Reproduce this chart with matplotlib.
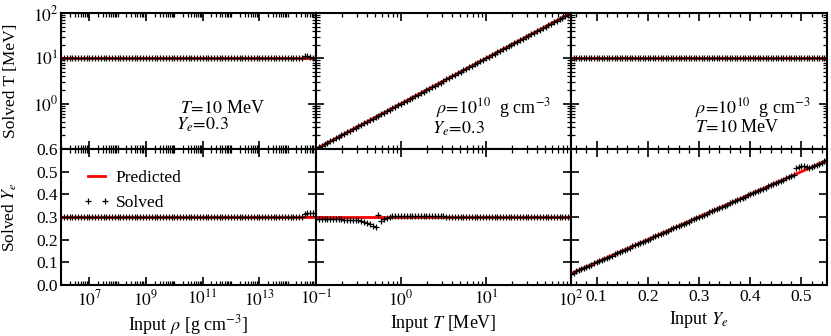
import numpy as np
import matplotlib
matplotlib.use("Agg")
import matplotlib.pyplot as plt
from matplotlib.ticker import FixedLocator, LogLocator, MultipleLocator, FuncFormatter, NullFormatter

plt.rcParams.update({
    "font.family": ["Liberation Serif", "DejaVu Serif"],
    "mathtext.fontset": "stix",
    "font.size": 12.5,
    "axes.linewidth": 1.5,
})

# ---------------- data ----------------
T_FIXED = 10.0      # MeV
YE_FIXED = 0.3

rho_log10 = [6.0, 6.1, 6.2, 6.3, 6.4, 6.5, 6.6, 6.7, 6.8, 6.9,
             7.0, 7.1, 7.2, 7.3, 7.4, 7.5, 7.6, 7.7, 7.8, 7.9,
             8.0, 8.1, 8.2, 8.3, 8.4, 8.5, 8.6, 8.7, 8.8, 8.9,
             9.0, 9.1, 9.2, 9.3, 9.4, 9.5, 9.6, 9.7, 9.8, 9.9,
             10.0, 10.1, 10.2, 10.3, 10.4, 10.5, 10.6, 10.7, 10.8, 10.9,
             11.0, 11.1, 11.2, 11.3, 11.4, 11.5, 11.6, 11.7, 11.8, 11.9,
             12.0, 12.1, 12.2, 12.3, 12.4, 12.5, 12.6, 12.7, 12.8, 12.9,
             13.0, 13.1, 13.2, 13.3, 13.4, 13.5, 13.6, 13.7, 13.8, 13.9,
             14.0, 14.1, 14.2, 14.3, 14.4, 14.5, 14.6, 14.7, 14.8, 14.9,
             15.0]
t_solved_vs_rho = [10.0] * 85 + [10.2, 11.2, 11.0, 10.6, 10.3, 10.1]
ye_solved_vs_rho = [0.300] * 85 + [0.302, 0.312, 0.318, 0.319, 0.318, 0.305]

t_input = [0.1000, 0.1080, 0.1166, 0.1259, 0.1359, 0.1468, 0.1585, 0.1711, 0.1848, 0.1995,
           0.2154, 0.2326, 0.2512, 0.2712, 0.2929, 0.3162, 0.3415, 0.3687, 0.3981, 0.4299,
           0.4642, 0.5012, 0.5412, 0.5843, 0.6310, 0.6813, 0.7356, 0.7943, 0.8577, 0.9261,
           1.000, 1.080, 1.166, 1.259, 1.359, 1.468, 1.585, 1.711, 1.848, 1.995,
           2.154, 2.326, 2.512, 2.712, 2.929, 3.162, 3.415, 3.687, 3.981, 4.299,
           4.642, 5.012, 5.412, 5.843, 6.310, 6.813, 7.356, 7.943, 8.577, 9.261,
           10.00, 10.80, 11.66, 12.59, 13.59, 14.68, 15.85, 17.11, 18.48, 19.95,
           21.54, 23.26, 25.12, 27.12, 29.29, 31.62, 34.15, 36.87, 39.81, 42.99,
           46.42, 50.12, 54.12, 58.43, 63.10, 68.13, 73.56, 79.43, 85.77, 92.61,
           100.0]
t_solved_vs_t = [0.1000, 0.1080, 0.1166, 0.1259, 0.1359, 0.1468, 0.1585, 0.1711, 0.1848, 0.1995,
                 0.2154, 0.2326, 0.2512, 0.2712, 0.2929, 0.3162, 0.3415, 0.3687, 0.3981, 0.4299,
                 0.4642, 0.5012, 0.5412, 0.5843, 0.6310, 0.6813, 0.7356, 0.7943, 0.8577, 0.9261,
                 1.000, 1.080, 1.166, 1.259, 1.359, 1.468, 1.585, 1.711, 1.848, 1.995,
                 2.154, 2.326, 2.512, 2.712, 2.929, 3.162, 3.415, 3.687, 3.981, 4.299,
                 4.642, 5.012, 5.412, 5.843, 6.310, 6.813, 7.356, 7.943, 8.577, 9.261,
                 10.00, 10.80, 11.66, 12.59, 13.59, 14.68, 15.85, 17.11, 18.48, 19.95,
                 21.54, 23.26, 25.12, 27.12, 29.29, 31.62, 34.15, 36.87, 39.81, 42.99,
                 46.42, 50.12, 54.12, 58.43, 63.10, 68.13, 73.56, 79.43, 85.77, 92.61,
                 100.0]
ye_solved_vs_t = ([0.291, 0.291, 0.290, 0.290, 0.290, 0.290, 0.289, 0.289, 0.289, 0.289,
                   0.288, 0.288, 0.287, 0.287, 0.286, 0.285,
                   0.283, 0.279, 0.274, 0.268, 0.262, 0.256,
                   0.307, 0.282, 0.291, 0.297, 0.301,
                   0.303, 0.304, 0.305,
                   0.305, 0.305, 0.306, 0.306, 0.306, 0.306, 0.306, 0.305, 0.305, 0.305, 0.305,
                   0.305, 0.304, 0.304, 0.303, 0.303, 0.302, 0.302, 0.301,
                   0.301, 0.301, 0.300, 0.300]
                  + [0.300] * 38)

ye_input = [0.050, 0.055, 0.060, 0.065, 0.070, 0.075, 0.080, 0.085, 0.090, 0.095,
            0.100, 0.105, 0.110, 0.115, 0.120, 0.125, 0.130, 0.135, 0.140, 0.145,
            0.150, 0.155, 0.160, 0.165, 0.170, 0.175, 0.180, 0.185, 0.190, 0.195,
            0.200, 0.205, 0.210, 0.215, 0.220, 0.225, 0.230, 0.235, 0.240, 0.245,
            0.250, 0.255, 0.260, 0.265, 0.270, 0.275, 0.280, 0.285, 0.290, 0.295,
            0.300, 0.305, 0.310, 0.315, 0.320, 0.325, 0.330, 0.335, 0.340, 0.345,
            0.350, 0.355, 0.360, 0.365, 0.370, 0.375, 0.380, 0.385, 0.390, 0.395,
            0.400, 0.405, 0.410, 0.415, 0.420, 0.425, 0.430, 0.435, 0.440, 0.445,
            0.450, 0.455, 0.460, 0.465, 0.470, 0.475, 0.480, 0.485, 0.490, 0.495,
            0.500, 0.505, 0.510, 0.515, 0.520, 0.525, 0.530, 0.535, 0.540, 0.545,
            0.550]
t_solved_vs_ye = [10.0] * 101
ye_solved_vs_ye = [0.050, 0.055, 0.060, 0.065, 0.070, 0.075, 0.080, 0.085, 0.090, 0.095,
                   0.100, 0.105, 0.110, 0.115, 0.120, 0.125, 0.130, 0.135, 0.140, 0.145,
                   0.150, 0.155, 0.160, 0.165, 0.170, 0.175, 0.180, 0.185, 0.190, 0.195,
                   0.200, 0.205, 0.210, 0.215, 0.220, 0.225, 0.230, 0.235, 0.240, 0.245,
                   0.250, 0.255, 0.260, 0.265, 0.270, 0.275, 0.280, 0.285, 0.290, 0.295,
                   0.300, 0.305, 0.310, 0.315, 0.320, 0.325, 0.330, 0.335, 0.340, 0.345,
                   0.350, 0.355, 0.360, 0.365, 0.370, 0.375, 0.380, 0.385, 0.390, 0.395,
                   0.400, 0.405, 0.410, 0.415, 0.420, 0.425, 0.430, 0.435, 0.440, 0.445,
                   0.450, 0.455, 0.460, 0.465, 0.470, 0.475, 0.480, 0.486, 0.515, 0.521,
                   0.523, 0.523, 0.522, 0.515, 0.520, 0.525, 0.530, 0.535, 0.540, 0.545,
                   0.550]

rho_input = 10.0 ** np.array(rho_log10)

# ---------------- figure ----------------
W, H = 831, 336
fig = plt.figure(figsize=(W / 100, H / 100), dpi=100)

xs = [61, 316, 571, 827]
ys = [13, 149, 285]


def rect(c, r):
    x0, x1 = xs[c], xs[c + 1]
    y0, y1 = ys[r], ys[r + 1]
    return [x0 / W, 1 - y1 / H, (x1 - x0) / W, (y1 - y0) / H]


axes = [[fig.add_axes(rect(c, r)) for c in range(3)] for r in range(2)]


def style(ax):
    ax.tick_params(which="both", direction="in", top=True, right=True)
    ax.tick_params(which="major", length=6, width=1.2)
    ax.tick_params(which="minor", length=3, width=0.9)
    ax.tick_params(axis="x", which="both", pad=3)
    ax.tick_params(axis="y", which="both", pad=2)


def pow_fmt(hide=()):
    def f(v, p):
        e = int(round(np.log10(v)))
        if e in hide:
            return ""
        return r"$10^{%d}$" % e
    return FuncFormatter(f)


red_kw = dict(color="red", lw=2, label="Predicted", zorder=2)
blk_kw = dict(ls="none", marker="+", color="black", ms=5, mew=0.9, label="Solved", zorder=3)

xdata = [rho_input, t_input, ye_input]
top_pred = [[T_FIXED] * len(rho_input), t_input, [T_FIXED] * len(ye_input)]
top_solv = [t_solved_vs_rho, t_solved_vs_t, t_solved_vs_ye]
bot_pred = [[YE_FIXED] * len(rho_input), [YE_FIXED] * len(t_input), ye_input]
bot_solv = [ye_solved_vs_rho, ye_solved_vs_t, ye_solved_vs_ye]

for c in range(3):
    at, ab = axes[0][c], axes[1][c]
    at.plot(xdata[c], top_pred[c], **red_kw)
    at.plot(xdata[c], top_solv[c], **blk_kw)
    ab.plot(xdata[c], bot_pred[c], **red_kw)
    ab.plot(xdata[c], bot_solv[c], **blk_kw)

    # y axes
    at.set_yscale("log")
    at.set_ylim(0.1, 100)
    at.yaxis.set_major_locator(FixedLocator([0.1, 1, 10, 100]))
    at.yaxis.set_minor_locator(LogLocator(base=10, subs=np.arange(2, 10), numticks=50))
    at.yaxis.set_minor_formatter(NullFormatter())
    ab.set_ylim(0, 0.6)
    ab.yaxis.set_major_locator(MultipleLocator(0.1))
    if c == 0:
        at.yaxis.set_major_formatter(pow_fmt(hide=(-1,)))
        ab.yaxis.set_major_formatter(FuncFormatter(lambda v, p: "%.1f" % v))
    else:
        at.tick_params(labelleft=False)
        ab.tick_params(labelleft=False)

    for ax in (at, ab):
        if c == 0:
            ax.set_xscale("log")
            ax.set_xlim(1e6, 1e15)
            ax.xaxis.set_major_locator(FixedLocator([1e7, 1e9, 1e11, 1e13, 1e15]))
            ax.xaxis.set_minor_locator(LogLocator(base=10, subs=np.arange(1, 10), numticks=200))
            ax.xaxis.set_major_formatter(pow_fmt(hide=(15,)))
            ax.xaxis.set_minor_formatter(NullFormatter())
        elif c == 1:
            ax.set_xscale("log")
            ax.set_xlim(0.1, 100)
            ax.xaxis.set_major_locator(FixedLocator([0.1, 1, 10, 100]))
            ax.xaxis.set_minor_locator(LogLocator(base=10, subs=np.arange(2, 10), numticks=50))
            ax.xaxis.set_major_formatter(pow_fmt())
            ax.xaxis.set_minor_formatter(NullFormatter())
        else:
            ax.set_xlim(0.05, 0.55)
            ax.xaxis.set_major_locator(FixedLocator([0.1, 0.2, 0.3, 0.4, 0.5]))
            ax.xaxis.set_minor_locator(MultipleLocator(0.02))
            ax.xaxis.set_major_formatter(FuncFormatter(lambda v, p: "%.1f" % v))
        style(ax)
    at.tick_params(labelbottom=False)

# labels
axes[0][0].set_ylabel("Solved T [MeV]")
axes[1][0].set_ylabel(r"Solved $Y_e$")
axes[0][0].yaxis.set_label_coords(-0.165, 0.5)
axes[1][0].yaxis.set_label_coords(-0.165, 0.5)
axes[1][0].set_xlabel(r"Input $\rho$ [g cm$^{-3}$]", labelpad=3, fontsize=13)
axes[1][1].set_xlabel(r"Input $T$ [MeV]", labelpad=3, fontsize=13)
axes[1][2].set_xlabel(r"Input $Y_e$", labelpad=3, fontsize=13)

# annotations (one two-line block per panel)
tk = dict(va="center", ha="left", fontsize=13, linespacing=0.95)
a = axes[0][0]
a.text(0.451, 0.235, "$\\ T\\!=\\!10$ MeV\n$Y_e\\!=\\!0.3$", transform=a.transAxes, **tk)
a = axes[0][1]
a.text(0.455, 0.235, "$\\ \\rho\\!=\\!10^{10}$  g cm$^{-3}$\n$Y_e\\!=\\!0.3$", transform=a.transAxes, **tk)
a = axes[0][2]
a.text(0.484, 0.245, "$\\rho\\!=\\!10^{10}$  g cm$^{-3}$\n$T\\!=\\!10$ MeV", transform=a.transAxes, **tk)

# legend
axes[1][0].legend(loc="upper left", bbox_to_anchor=(0.086, 0.845), frameon=False,
                  numpoints=2, handlelength=1.55, handletextpad=0.35, labelspacing=0.5,
                  borderpad=0, borderaxespad=0)

fig.savefig("out.png", dpi=100)
